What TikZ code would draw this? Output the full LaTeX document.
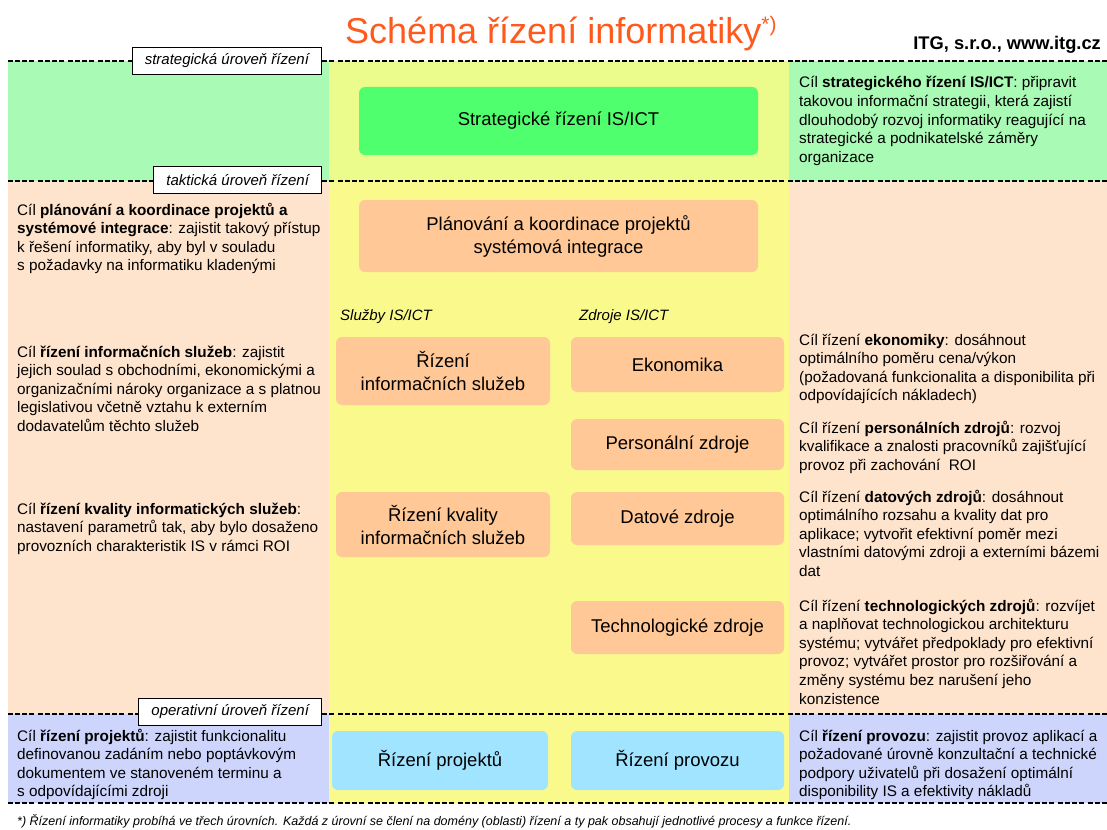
\documentclass[tikz,border=0pt]{standalone}
\usepackage{fontspec}
\setmainfont{Liberation Sans}
\definecolor{lgreen}{RGB}{168,250,180}
\definecolor{ygreen}{RGB}{236,252,140}
\definecolor{yel}{RGB}{250,250,140}
\definecolor{peach}{RGB}{255,228,205}
\definecolor{lav}{RGB}{205,213,252}
\definecolor{gbox}{RGB}{80,255,110}
\definecolor{obox}{RGB}{255,200,150}
\definecolor{bbox}{RGB}{160,228,255}
\definecolor{titlec}{RGB}{255,90,30}
\tikzset{
  dashline/.style={line width=1.6pt, dash pattern=on 5pt off 2pt on 5pt off 2pt on 5pt off 2pt on 5pt off 4pt},
  lvl/.style={draw=black, line width=1pt, fill=white, inner xsep=12.5pt, inner ysep=0pt, minimum height=27pt, anchor=east,
    font=\fontsize{15}{18}\selectfont\itshape},
  side/.style={anchor=base west, align=left, inner sep=0pt, font=\fontsize{15.3}{18.6}\selectfont},
  box/.style={rounded corners=6pt, inner sep=0pt, align=center, font=\fontsize{18.5}{23}\selectfont},
  sublbl/.style={anchor=base west, inner sep=0pt, font=\fontsize{15}{18}\selectfont\itshape}
}
\begin{document}
\begin{tikzpicture}[x=1pt,y=-1pt]
\useasboundingbox (0,0) rectangle (1107,829);
\fill[white] (0,0) rectangle (1107,829);
% backgrounds
\fill[lgreen] (8,61) rectangle (329,181);
\fill[ygreen] (329,61) rectangle (789,181);
\fill[lgreen] (789,61) rectangle (1107,181);
\fill[peach] (8,181) rectangle (329,714);
\fill[yel] (329,181) rectangle (789,803);
\fill[peach] (789,181) rectangle (1107,714);
\fill[lav] (8,714) rectangle (329,803);
\fill[lav] (789,714) rectangle (1107,803);
% dashed level lines
\foreach \yy in {61,181,714,803} \draw[dashline] (8,\yy) -- (1107,\yy);
% title
\node[anchor=base west, inner sep=0pt, text=titlec, font=\fontsize{36}{40}\selectfont] (title) at (345,44)
  {Schéma řízení informatiky\raisebox{12pt}{\fontsize{21}{24}\selectfont *)}};
\node[anchor=base east, inner sep=0pt, font=\fontsize{18.3}{20}\selectfont\bfseries] (itg) at (1101,50) {ITG, s.r.o., www.itg.cz};
% level labels
\node[lvl] (lvS) at (322,61) {strategická úroveň řízení};
\node[lvl] (lvT) at (322,180) {taktická úroveň řízení};
\node[lvl] (lvO) at (322,712) {operativní úroveň řízení};
% middle boxes
\node[box, fill=gbox, minimum width=399pt, minimum height=68pt] (strat) at (558.5,121) {Strategické řízení IS/ICT};
\node[box, fill=obox, minimum width=399pt, minimum height=72pt] (plan) at (558.5,236) {Plánování a koordinace projektů\\systémová integrace};
\node[sublbl] (sluzby) at (340,320) {Služby IS/ICT};
\node[sublbl] (zdroje) at (579,320) {Zdroje IS/ICT};
\node[box, fill=obox, minimum width=214pt, minimum height=68pt] (ris) at (443,371) {Řízení\\informačních služeb};
\node[box, fill=obox, minimum width=214pt, minimum height=65pt] (rkv) at (443,524.5) {Řízení kvality\\informačních služeb};
\node[box, fill=obox, minimum width=213pt, minimum height=55pt] (eko) at (677.5,364.5) {Ekonomika};
\node[box, fill=obox, minimum width=213pt, minimum height=51pt] (pers) at (677.5,444.5) {Personální zdroje};
\node[box, fill=obox, minimum width=213pt, minimum height=53pt] (dat) at (677.5,518.5) {Datové zdroje};
\node[box, fill=obox, minimum width=213pt, minimum height=53pt] (tech) at (677.5,627.5) {Technologické zdroje};
\node[box, fill=bbox, minimum width=216pt, minimum height=59pt] (proj) at (440,760.5) {Řízení projektů};
\node[box, fill=bbox, minimum width=213pt, minimum height=59pt] (prov) at (677.5,760.5) {Řízení provozu};
% left texts (anchor = baseline of the last line)
\node[side] (tL1) at (17,270.8) {Cíl \textbf{plánování a koordinace projektů a}\\\textbf{systémové integrace}: zajistit takový přístup\\k řešení informatiky, aby byl v souladu\\s požadavky na informatiku kladenými};
\node[side] (tL2) at (17,431.4) {Cíl \textbf{řízení informačních služeb}: zajistit\\jejich soulad s obchodními, ekonomickými a\\organizačními nároky organizace a s platnou\\legislativou včetně vztahu k externím\\dodavatelům těchto služeb};
\node[side] (tL3) at (17,551.2) {Cíl \textbf{řízení kvality informatických služeb}:\\nastavení parametrů tak, aby bylo dosaženo\\provozních charakteristik IS v rámci ROI};
\node[side] (tL4) at (17,796.8) {Cíl \textbf{řízení projektů}: zajistit funkcionalitu\\definovanou zadáním nebo poptávkovým\\dokumentem ve stanoveném terminu a\\s odpovídajícími zdroji};
% right texts
\node[side] (tR1) at (799,162.4) {Cíl \textbf{strategického řízení IS/ICT}: připravit\\takovou informační strategii, která zajistí\\dlouhodobý rozvoj informatiky reagující na\\strategické a podnikatelské záměry\\organizace};
\node[side] (tR2) at (799,400.8) {Cíl řízení \textbf{ekonomiky}: dosáhnout\\optimálního poměru cena/výkon\\(požadovaná funkcionalita a disponibilita při\\odpovídajících nákladech)};
\node[side] (tR3) at (799,470.2) {Cíl řízení \textbf{personálních zdrojů}: rozvoj\\kvalifikace a znalosti pracovníků zajišťující\\provoz při zachování~ ROI};
\node[side] (tR4) at (799,576.4) {Cíl řízení \textbf{datových zdrojů}: dosáhnout\\optimálního rozsahu a kvality dat pro\\aplikace; vytvořit efektivní poměr mezi\\vlastními datovými zdroji a externími bázemi\\dat};
\node[side] (tR5) at (799,704) {Cíl řízení \textbf{technologických zdrojů}: rozvíjet\\a naplňovat technologickou architekturu\\systému; vytvářet předpoklady pro efektivní\\provoz; vytvářet prostor pro rozšiřování a\\změny systému bez narušení jeho\\konzistence};
\node[side] (tR6) at (799,796.8) {Cíl \textbf{řízení provozu}: zajistit provoz aplikací a\\požadované úrovně konzultační a technické\\podpory uživatelů při dosažení optimální\\disponibility IS a efektivity nákladů};
% footnote
\node[anchor=base west, inner sep=0pt, font=\fontsize{12.5}{14}\selectfont\itshape] (foot) at (17,825)
  {*) Řízení informatiky probíhá ve třech úrovních. Každá z úrovní se člení na domény (oblasti) řízení a ty pak obsahují jednotlivé procesy a funkce řízení.};
\end{tikzpicture}
\end{document}
